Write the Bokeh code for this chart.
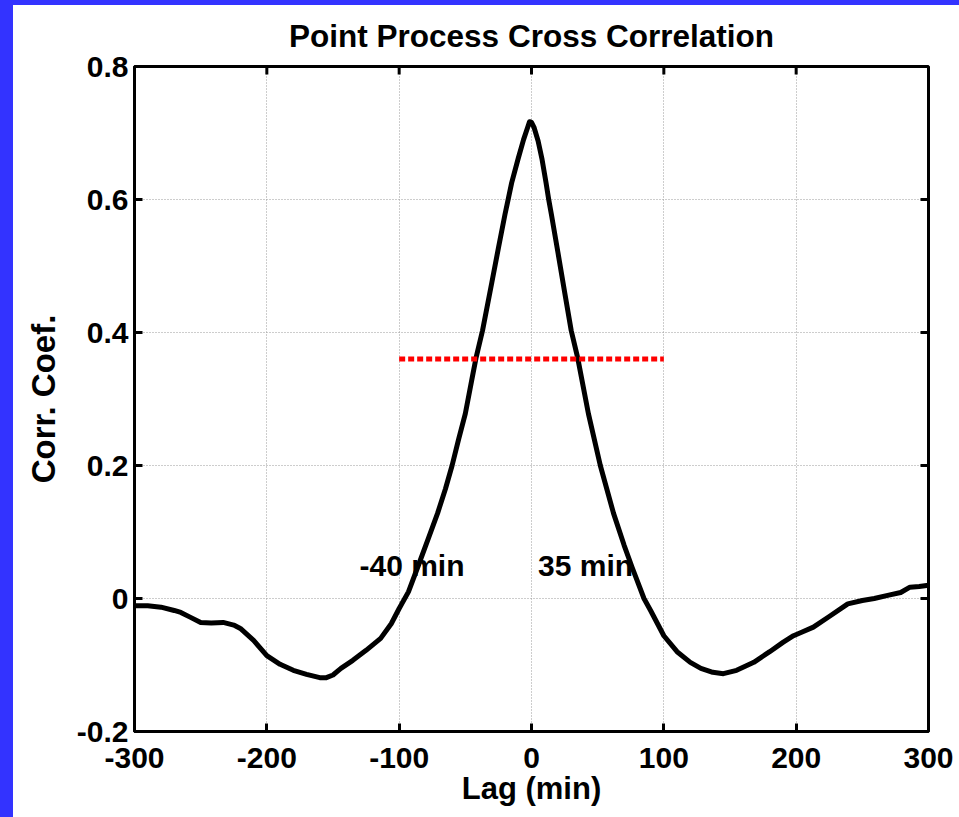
import math
from jinja2 import Template
from bokeh.plotting import figure
from bokeh.models import Range1d, FixedTicker
from bokeh.core.properties import value
from bokeh.embed import file_html
from bokeh.resources import INLINE

# ---- data ----
lag = [-300, -290, -280, -270, -265, -258, -250, -242, -233, -225, -220, -210,
       -200, -190, -180, -170, -160, -155, -150, -144, -135, -125, -114, -106,
       -100, -93, -86, -78, -71, -65, -60, -55, -50, -45, -42, -37, -30, -25,
       -20, -15, -10, -6, -3, -1.5, 0, 2, 5, 8, 11, 13, 15, 20, 25, 30, 35, 43,
       52, 62, 70, 76, 85, 90, 100, 110, 120, 128, 137, 145, 155, 168, 180, 190,
       198, 205, 213, 225, 239, 250, 259, 270, 279, 286, 293, 300]
corr = [-0.011, -0.011, -0.013, -0.018, -0.021, -0.028, -0.036, -0.037, -0.036,
        -0.040, -0.045, -0.063, -0.086, -0.099, -0.108, -0.114, -0.119, -0.119,
        -0.115, -0.105, -0.093, -0.078, -0.060, -0.038, -0.015, 0.010, 0.047,
        0.090, 0.128, 0.165, 0.200, 0.240, 0.278, 0.330, 0.361, 0.403, 0.475,
        0.527, 0.578, 0.625, 0.662, 0.690, 0.708, 0.717, 0.716, 0.708, 0.688,
        0.660, 0.625, 0.600, 0.578, 0.520, 0.461, 0.403, 0.361, 0.278, 0.200,
        0.128, 0.080, 0.047, 0.000, -0.018, -0.056, -0.080, -0.096, -0.105,
        -0.111, -0.113, -0.108, -0.096, -0.080, -0.066, -0.056, -0.050, -0.043,
        -0.027, -0.008, -0.003, 0.000, 0.005, 0.009, 0.017, 0.018, 0.020]

half_max_x = [-100, 100]
half_max_y = [0.36, 0.36]

ann_text = ["-40 min", "35 min"]
ann_x = [-130, 5]
ann_y = [0.05, 0.05]

title_text = "Point Process Cross Correlation"

x_ticks = [-300, -200, -100, 0, 100, 200, 300]
x_tick_labels = ["-300", "-200", "-100", "0", "100", "200", "300"]
y_ticks = [-0.2, 0, 0.2, 0.4, 0.6, 0.8]
y_tick_labels = ["-0.2", "0", "0.2", "0.4", "0.6", "0.8"]

FONT = "Liberation Sans"
FS = "30px"

p = figure(width=946, height=812, output_backend="svg", toolbar_location=None,
           x_range=Range1d(-300, 300), y_range=Range1d(-0.2, 0.8),
           min_border_left=121, min_border_right=31, min_border_top=61,
           min_border_bottom=86, title=title_text)

p.background_fill_color = "white"
p.border_fill_color = "white"
p.outline_line_color = "black"
p.outline_line_width = 3

p.title.text_font = FONT
p.title.text_font_size = "31.5px"
p.title.text_font_style = "bold"
p.title.align = "center"
p.title.text_color = "black"
p.title.vertical_align = "top"
p.title.standoff = 21

p.xaxis.ticker = FixedTicker(ticks=x_ticks)
p.yaxis.ticker = FixedTicker(ticks=y_ticks)
p.xaxis.major_label_overrides = {t: s for t, s in zip(x_ticks, x_tick_labels)}
p.yaxis.major_label_overrides = {t: s for t, s in zip(y_ticks, y_tick_labels)}
p.xaxis.axis_label = "Lag (min)"
p.yaxis.axis_label = "Corr. Coef."

for ax in [p.xaxis[0], p.yaxis[0]]:
    ax.axis_line_width = 3
    ax.axis_line_color = "black"
    ax.major_tick_in = 8
    ax.major_tick_out = 0
    ax.major_tick_line_width = 3
    ax.minor_tick_line_color = None
    ax.major_label_text_font = FONT
    ax.major_label_text_font_size = FS
    ax.major_label_text_font_style = "bold"
    ax.major_label_text_color = "black"
    ax.axis_label_text_font = FONT
    ax.axis_label_text_font_style = "bold"
    ax.axis_label_text_color = "black"
p.xaxis.axis_label_text_font_size = "31px"
p.yaxis.axis_label_text_font_size = "33px"
p.xaxis.major_label_standoff = 16
p.yaxis.major_label_standoff = 6
p.xaxis.axis_label_standoff = 0
p.yaxis.axis_label_standoff = 12

p.grid.grid_line_color = "#9a9a9a"
p.grid.grid_line_dash = "1 2"
p.grid.grid_line_width = 1
p.xgrid.ticker = FixedTicker(ticks=x_ticks)
p.ygrid.ticker = FixedTicker(ticks=y_ticks)

# inward tick marks on the top and right edges (box on); the outer half is clipped by the frame
p.scatter(x=x_ticks, y=[y_ticks[-1]] * len(x_ticks), marker="dash", size=16,
          angle=math.pi / 2, line_color="black", line_width=3)
p.scatter(x=[x_ticks[-1]] * len(y_ticks), y=y_ticks, marker="dash", size=16,
          line_color="black", line_width=3)

p.line(lag, corr, line_color="black", line_width=5, line_join="round")
p.line(half_max_x, half_max_y, line_color="red", line_width=5, line_dash="6 3")

p.text(x=ann_x, y=ann_y, text=ann_text, text_font=value(FONT),
       text_font_size=FS, text_font_style="bold", text_color="black",
       text_baseline="alphabetic", text_align="left")

# blue strips on the left and top of the original page
page = Template("""{% extends base %}
{% block postamble %}<style>
html,body{margin:0;background:#ffffff;}
body{padding:5px 0 0 13px;overflow:hidden;}
body::before{content:"";position:fixed;left:0;top:0;width:13px;height:100%;background:#3333ff;z-index:10;}
body::after{content:"";position:fixed;left:0;top:0;width:100%;height:5px;background:#3333ff;z-index:10;}
</style>{% endblock %}
""")

open("out.html", "w").write(file_html(p, INLINE, template=page))
